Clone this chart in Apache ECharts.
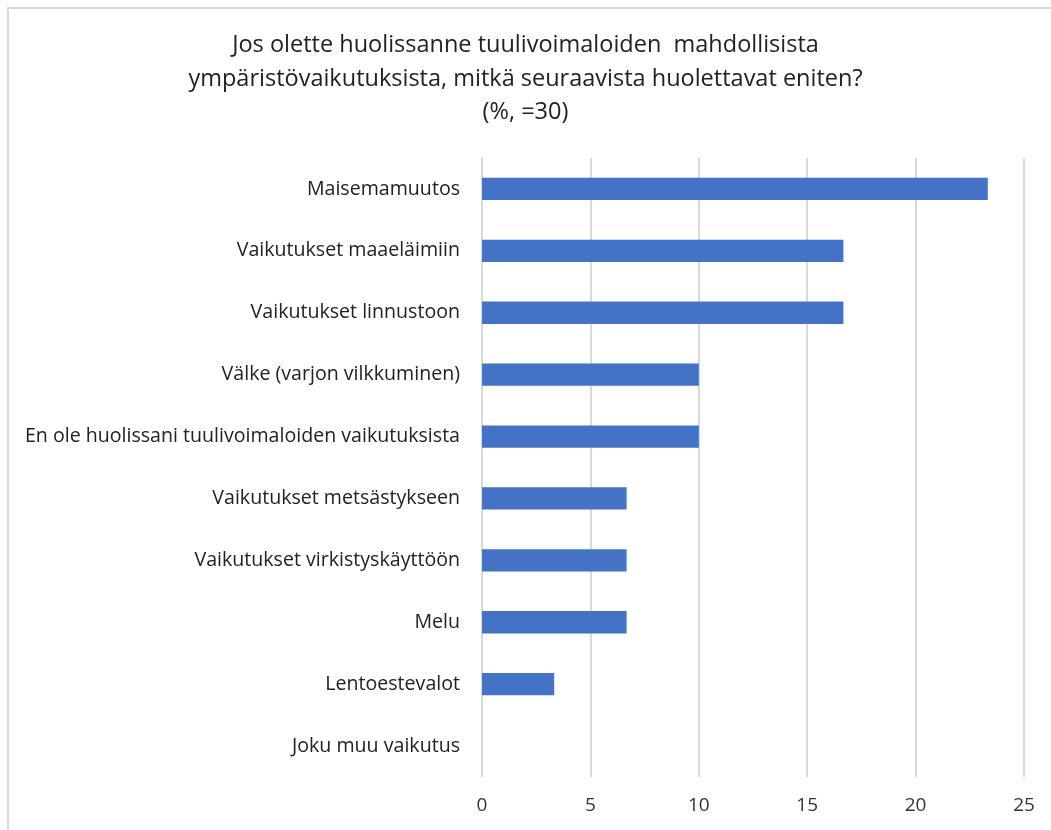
<!DOCTYPE html>
<html>
<head>
<meta charset="utf-8">
<script src="https://cdn.jsdelivr.net/npm/echarts@6/dist/echarts.min.js"></script>
<style>
  html, body { margin: 0; padding: 0; background: #fff; }
  #chart { width: 1051px; height: 830px; }
</style>
</head>
<body>
<div id="chart"></div>
<script>
// categories top to bottom, as in the picture
const categories = [
  'Maisemamuutos',
  'Vaikutukset maaeläimiin',
  'Vaikutukset linnustoon',
  'Välke (varjon vilkkuminen)',
  'En ole huolissani tuulivoimaloiden vaikutuksista',
  'Vaikutukset metsästykseen',
  'Vaikutukset virkistyskäyttöön',
  'Melu',
  'Lentoestevalot',
  'Joku muu vaikutus'
];
const values = [23.33, 16.67, 16.67, 10, 10, 6.67, 6.67, 6.67, 3.33, 0];
const titleLines = [
  'Jos olette huolissanne tuulivoimaloiden  mahdollisista',
  'ympäristövaikutuksista, mitkä seuraavista huolettavat eniten?',
  '(%, =30)'
];

const chart = echarts.init(document.getElementById('chart'));
const font = '"Open Sans", "Noto Sans", sans-serif';

chart.setOption({
  animation: false,
  title: {
    text: titleLines.join('\n'),
    left: 'center',
    top: 24,
    textStyle: {
      fontFamily: font,
      fontSize: 23.5,
      fontWeight: 'normal',
      color: '#222',
      lineHeight: 33.5
    }
  },
  graphic: [{
    type: 'rect',
    shape: { x: 8, y: 8, width: 1200, height: 1000 },
    style: { fill: 'none', stroke: '#d9d9d9', lineWidth: 2 },
    silent: true
  }],
  grid: { left: 482, right: 27, top: 158, bottom: 53 },
  xAxis: {
    type: 'value',
    min: 0,
    max: 25,
    interval: 5,
    axisLine: { show: false },
    axisTick: { show: false },
    axisLabel: { fontFamily: font, fontSize: 19, color: '#333', margin: 19 },
    splitLine: { lineStyle: { color: '#d9d9d9', width: 2 } }
  },
  yAxis: {
    type: 'category',
    inverse: true,
    data: categories,
    axisLine: { show: false },
    axisTick: { show: false },
    axisLabel: { fontFamily: font, fontSize: 19.6, color: '#222', margin: 22 }
  },
  series: [{
    type: 'bar',
    data: values,
    barWidth: '36%',
    itemStyle: { color: '#4472C4' }
  }]
});
</script>
</body>
</html>
